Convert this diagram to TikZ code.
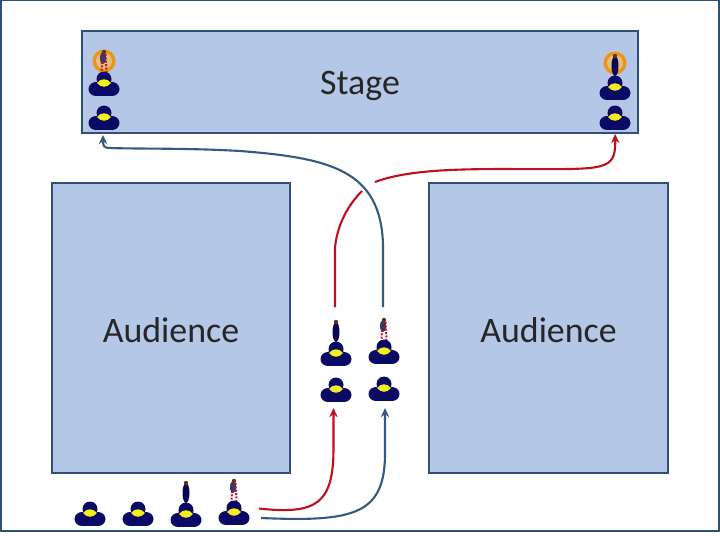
\documentclass[tikz,border=0pt]{standalone}
\usepackage{fontspec}
\setmainfont{Carlito}
\usepackage{xcolor}
\usepackage{tikz}
\usetikzlibrary{arrows.meta,positioning}

\definecolor{panelfill}{HTML}{B4C7E7}
\definecolor{panelline}{HTML}{2F5078}
\definecolor{seatnavy}{HTML}{0A0A66}
\definecolor{seatyellow}{HTML}{F2EE1E}
\definecolor{seattan}{HTML}{D2AE8A}
\definecolor{flowred}{HTML}{C00F1E}
\definecolor{flowblue}{HTML}{355A82}
\definecolor{haloorange}{HTML}{EE9412}
\definecolor{haloinner}{HTML}{E2BE7C}
\definecolor{labelgrey}{HTML}{262626}

% one seated person, given the middle of the yellow patch
\newcommand{\seatfig}[2]{%
  \fill[seatnavy] (#1,#2-4) circle (7.5);
  \fill[seatnavy] (#1-8,#2+6) ellipse [x radius=7.5,y radius=7];
  \fill[seatnavy] (#1+8,#2+6) ellipse [x radius=7.5,y radius=7];
  \fill[seatnavy] (#1-7,#2-2) rectangle (#1+7,#2+12.5);
  \fill[seatyellow] (#1-7,#2) .. controls (#1-3,#2-5) and (#1+3,#2-5) .. (#1+7,#2)
    .. controls (#1+3,#2+5) and (#1-3,#2+5) .. cycle;
}
% the same person with the shoulders showing
\newcommand{\leadfig}[2]{%
  \fill[seattan] (#1-13,#2+4) -- (#1,#2-11) -- (#1+13,#2+4) -- cycle;
  \seatfig{#1}{#2}
}
\newcommand{\darkfig}[2]{%
  \fill[seatnavy!80!black] (#1,#2-21) ellipse [x radius=3.5,y radius=10];
  \fill[black!55!brown] (#1,#2-31) circle (2.2);
}
\newcommand{\redfig}[2]{%
  \fill[seatnavy!60!gray] (#1-1,#2-25) ellipse [x radius=3,y radius=6];
  \fill[black!55!brown] (#1,#2-31) circle (2.2);
  \draw[flowred,densely dotted,line width=1.4pt] (#1+1.5,#2-29) -- (#1+2.5,#2-11);
  \draw[flowred,densely dotted,line width=1.4pt] (#1-2,#2-21) -- (#1-2.5,#2-11);
}
\newcommand{\halofig}[2]{%
  \fill[haloorange] (#1,#2) circle (11.5);
  \fill[haloinner] (#1,#2) circle (8);
}

\begin{document}
\begin{tikzpicture}[
    x=0.025cm,y=-0.025cm,
    >={Stealth[length=6.5pt,width=6pt]},
    panel/.style={
        draw=panelline,
        line width=1.4pt,
        fill=panelfill,
        align=center,
        text=labelgrey,
        text depth=0pt,
        font=\fontsize{25.5}{30}\selectfont
    },
    flow/.style={->, line width=1.5pt}
]
\useasboundingbox (0,0) rectangle (720,540);

\node[draw=panelline,line width=1.5pt,minimum width=17.95cm,minimum height=13.25cm] (frame) at (360,265.5) {};

% panels
\node[panel,text height=18pt,minimum width=13.9cm,minimum height=2.55cm] (stage) at (360,82) {Stage};
\node[panel,text height=20pt,minimum width=5.95cm,minimum height=7.25cm] (audleft) at (171,328) {Audience};
\node[panel,text height=20pt,minimum width=5.97cm,minimum height=7.25cm] (audright) at (548.5,328) {Audience};

% stage people
\halofig{104}{61}
\redfig{104}{83}
\leadfig{104}{83}
\seatfig{104}{117}
\halofig{615}{63}
\darkfig{615}{87}
\leadfig{615}{87}
\seatfig{615}{117}

% people in the aisle
\darkfig{336}{353}
\leadfig{336}{353}
\redfig{384}{351}
\leadfig{384}{351}
\seatfig{336}{389}
\seatfig{384}{388}

% people in the row
\seatfig{90}{513}
\seatfig{138}{513}
\darkfig{186}{514}
\leadfig{186}{514}
\redfig{234}{512}
\leadfig{234}{512}

% ends of the flows
\coordinate (rowred) at (259,508.5);
\coordinate (rowblue) at (261,518);
\coordinate (aislered) at (333.5,408);
\coordinate (aisleblue) at (385,408);
\coordinate (upred) at (335,307);
\coordinate (upblue) at (383,307);
\coordinate (gapred) at (362,191);
\coordinate (gapredb) at (375,182);
\coordinate (stageleft) at (103,135);
\coordinate (stageright) at (615,134);

\draw[flow,flowred] (rowred) .. controls (318,515) and (334,503) .. (333.5,445) -- (aislered);
\draw[flow,flowblue] (rowblue) .. controls (355,522) and (386,515) .. (385,450) -- (aisleblue);

\draw[flowred,line width=1.5pt] (upred) -- (335,248) .. controls (337,225) and (348,205) .. (gapred);
\draw[flow,flowred] (gapredb) .. controls (420,165) and (500,170) .. (570,169) .. controls (608,168) and (616,165) .. (stageright);
\draw[flow,flowblue] (upblue) -- (383,245) .. controls (381,170) and (330,158) .. (240,151) .. controls (190,148) and (140,149) .. (110,148) .. controls (104,148) and (103,146) .. (stageleft);

\end{tikzpicture}
\end{document}
